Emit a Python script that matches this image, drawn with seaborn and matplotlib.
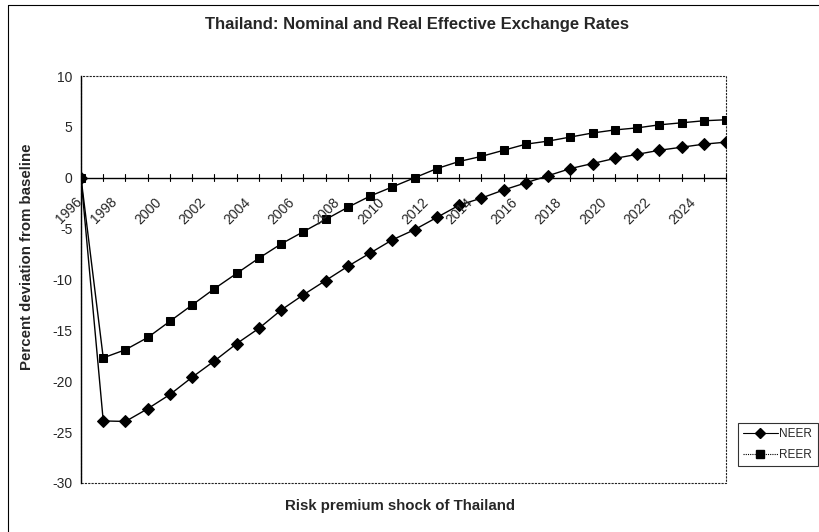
import matplotlib
matplotlib.use("Agg")
import matplotlib.pyplot as plt
import seaborn as sns
import pandas as pd
from matplotlib.patches import Rectangle
from matplotlib.lines import Line2D

years = list(range(1996, 2026))
neer = [0, -23.9, -23.95, -22.7, -21.3, -19.6, -18.0, -16.3, -14.8, -13.0,
        -11.5, -10.1, -8.7, -7.4, -6.1, -5.1, -3.9, -2.7, -2.0, -1.2,
        -0.5, 0.2, 0.9, 1.4, 1.9, 2.3, 2.7, 3.0, 3.3, 3.5]
reer = [0, -17.7, -16.9, -15.7, -14.1, -12.5, -10.9, -9.4, -7.9, -6.5,
        -5.3, -4.1, -2.9, -1.8, -0.9, 0.0, 0.9, 1.6, 2.1, 2.7,
        3.3, 3.6, 4.0, 4.4, 4.7, 4.9, 5.2, 5.4, 5.6, 5.7]
series_names = ["NEER", "REER"]
xtick_years = list(range(1996, 2026, 2))
yticks = [-30, -25, -20, -15, -10, -5, 0, 5, 10]

title = "Thailand: Nominal and Real Effective Exchange Rates"
xlabel = "Risk premium shock of Thailand"
ylabel = "Percent deviation from baseline"

df = pd.DataFrame({
    "year": years * 2,
    "value": neer + reer,
    "series": [series_names[0]] * len(years) + [series_names[1]] * len(years),
})

sns.set_style("white")
plt.rcParams["font.family"] = ["Liberation Sans", "DejaVu Sans"]
plt.rcParams["axes.unicode_minus"] = False

fig = plt.figure(figsize=(8.19, 5.32), dpi=100)
ax = fig.add_axes([81 / 819, 1 - 483 / 532, (726 - 81) / 819, (483 - 76) / 532])

sns.lineplot(data=df, x="year", y="value", hue="series", style="series",
             markers={"NEER": "D", "REER": "s"}, dashes=False,
             palette={"NEER": "black", "REER": "black"},
             markersize=6, linewidth=1.0, markeredgecolor="black",
             ax=ax, legend=False)

ax.set_xlim(1996, 2025)
ax.set_ylim(-30, 10)

for s in ["top", "right", "bottom"]:
    ax.spines[s].set_visible(False)
ax.spines["left"].set_color("black")
ax.spines["left"].set_linewidth(1.0)
ax.axhline(0, color="black", lw=1.0, zorder=1)
ax.add_patch(Rectangle((0, 0), 1, 1, transform=ax.transAxes, fill=False,
                       edgecolor="#222222", lw=0.8, linestyle=(0, (2, 1)),
                       zorder=0, clip_on=False))

ax.set_yticks(yticks)
ax.set_yticklabels([str(v) for v in yticks], fontsize=10)
ax.tick_params(axis="y", direction="out", length=4, width=0.8, color="black", pad=2)

ax.set_xticks(years)
ax.set_xticklabels([])
ax.tick_params(axis="x", which="major", length=0)
for y in years:
    ax.plot([y, y], [-0.35, 0.35], color="black", lw=0.8, clip_on=False, zorder=1)
for y in xtick_years:
    dx = 0.15 if y == xtick_years[0] else -0.25
    ax.text(y + dx, -1.7, str(y), rotation=45, ha="right", va="top", fontsize=10)

ax.set_xlabel("")
ax.set_ylabel("")

fig.text(417 / 819, 1 - 25 / 532, title, ha="center", va="center",
         fontsize=12, fontweight="bold")
fig.text(400 / 819, 1 - 506 / 532, xlabel, ha="center", va="center",
         fontsize=10.8, fontweight="bold")
fig.text(27 / 819, 1 - 257 / 532, ylabel, ha="center", va="center",
         rotation=90, fontsize=10.8, fontweight="bold")

handles = [Line2D([], [], color="black", lw=0.8, marker="D", markersize=5.5),
           Line2D([], [], color="black", lw=0.8, ls=(0, (1, 1)), marker="s", markersize=5.5)]
leg = fig.legend(handles, series_names, loc="lower left",
                 bbox_to_anchor=(738 / 819, 1 - 466 / 532),
                 fontsize=8.5, frameon=True, fancybox=False, handlelength=2.9,
                 handletextpad=0.15, borderpad=0.45, labelspacing=0.7,
                 borderaxespad=0)
leg.get_frame().set_edgecolor("black")
leg.get_frame().set_linewidth(0.8)

fig.add_artist(Line2D([8 / 819, 8 / 819], [0, 1 - 5 / 532], color="black", lw=0.8,
                      transform=fig.transFigure))
fig.add_artist(Line2D([8 / 819, 1], [1 - 5 / 532, 1 - 5 / 532], color="black", lw=0.8,
                      transform=fig.transFigure))

fig.savefig("out.png", dpi=100)
